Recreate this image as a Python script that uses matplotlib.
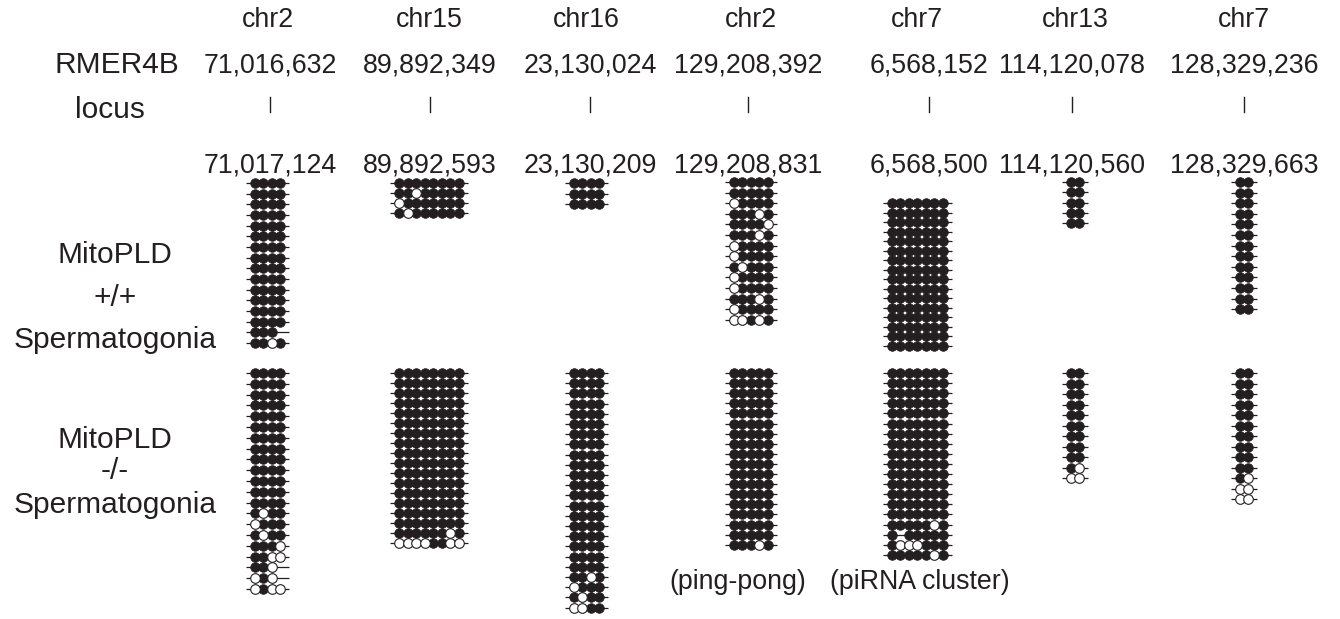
import numpy as np
import matplotlib
matplotlib.use("Agg")
import matplotlib.pyplot as plt

INK = "#231f20"
plt.rcParams["font.family"] = ["Liberation Sans", "DejaVu Sans"]

# ---- loci -------------------------------------------------------------
chromosomes = ["chr2", "chr15", "chr16", "chr2", "chr7", "chr13", "chr7"]
locus_start = ["71,016,632", "89,892,349", "23,130,024", "129,208,392",
               "6,568,152", "114,120,078", "128,329,236"]
locus_end = ["71,017,124", "89,892,593", "23,130,209", "129,208,831",
             "6,568,500", "114,120,560", "128,329,663"]
locus_notes = ["", "", "", "(ping-pong)", "(piRNA cluster)", "", ""]

# ---- bisulfite reads: 1 = methylated CpG, 0 = unmethylated, - = no call
wt_reads = [
    ["1111"] * 14 + ["111-", "1101"],
    ["11111111", "11011111", "01111111", "10111111"],
    ["1111"] * 3,
    ["11111", "11111", "01111", "11101", "11110", "11101", "01111",
     "01111", "10111", "01111", "01111", "11101", "01111", "00101"],
    ["1111111"] * 16,
    ["11"] * 5,
    ["11"] * 13,
]
ko_reads = [
    ["1111"] * 13 + ["1011", "0111", "1011", "1110", "1100", "110-",
                     "010-", "0100"],
    ["11111111"] * 16 + ["11111101", "00001100"],
    ["1111"] * 20 + ["1101", "0111", "1011", "0011"],
    ["11111"] * 17 + ["11101"],
    ["1111111"] * 15 + ["1111101", "1-11111", "1000111", "1111101"],
    ["11"] * 9 + ["10", "00"],
    ["11"] * 10 + ["10", "00", "00"],
]

# ---- layout (pixel units) ---------------------------------------------
col_x = [267.5, 429, 586.5, 750.5, 917, 1075, 1244]
num_x = [270, 430, 590, 748, 929, 1072, 1244]
note_x = [0, 0, 0, 738, 920, 0, 0]
wt_top = [183, 183, 183, 182, 203, 182, 182]
wt_pitch = [10.67, 10.0, 10.5, 10.6, 9.5, 10.3, 10.6]
ko_top = [373, 373, 373, 373, 373, 373, 373]
ko_pitch = [10.8, 10.0, 10.2, 10.1, 10.1, 10.5, 10.5]
dot_dx = 8.5
dot_s = 48
FS = 19.3
FS_LEFT = 21.5

fig = plt.figure(figsize=(13.4, 6.19), dpi=100)
ax = fig.add_axes([0, 0, 1, 1])
ax.set_xlim(0, 1340)
ax.set_ylim(619, 0)
ax.axis("off")


def draw_reads(reads, xc, y0, dy):
    n = len(reads[0])
    xs = xc + (np.arange(n) - (n - 1) / 2) * dot_dx
    for i, read in enumerate(reads):
        y = y0 + i * dy
        ax.plot([xs[0] - 9, xs[-1] + 9], [y, y], color=INK, lw=0.9,
                solid_capstyle="butt", zorder=1)
        full = [xs[j] for j, c in enumerate(read) if c == "1"]
        empty = [xs[j] for j, c in enumerate(read) if c == "0"]
        ax.scatter(full, [y] * len(full), s=dot_s, c=INK, edgecolors=INK,
                   linewidths=0.5, zorder=2)
        ax.scatter(empty, [y] * len(empty), s=dot_s, facecolors="white",
                   edgecolors=INK, linewidths=0.8, zorder=3)


txt = dict(color=INK, fontsize=FS, ha="center", va="center")
for k in range(len(chromosomes)):
    ax.text(col_x[k], 20, chromosomes[k], **txt)
    ax.text(num_x[k], 65, locus_start[k], **txt)
    ax.plot([num_x[k], num_x[k]], [97, 112], color=INK, lw=1.0)
    ax.text(num_x[k], 165, locus_end[k], **txt)
    draw_reads(wt_reads[k], col_x[k], wt_top[k], wt_pitch[k])
    draw_reads(ko_reads[k], col_x[k], ko_top[k], ko_pitch[k])
    if locus_notes[k]:
        ax.text(note_x[k], 582, locus_notes[k], **txt)

left = dict(txt, fontsize=FS_LEFT)
ax.text(117, 65, "RMER4B", **left)
ax.text(110, 110, "locus", **left)
ax.text(115, 255, "MitoPLD", **left)
ax.text(115, 298, "+/+", **left)
ax.text(115, 340, "Spermatogonia", **left)
ax.text(115, 440, "MitoPLD", **left)
ax.text(115, 471, "-/-", **left)
ax.text(115, 505, "Spermatogonia", **left)

fig.savefig("out.png", dpi=100)
